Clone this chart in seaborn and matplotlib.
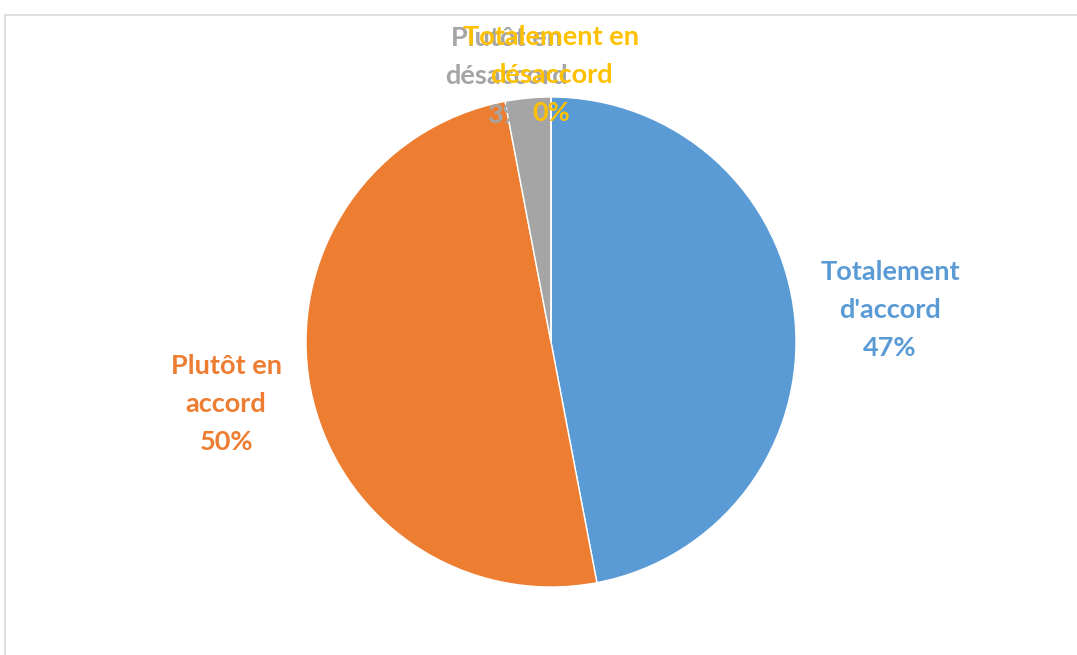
import numpy as np
import matplotlib
matplotlib.use("Agg")
import matplotlib.pyplot as plt
from matplotlib.patches import Rectangle
import seaborn as sns

# Survey answers and their shares (percent)
categories = ["Totalement\nd'accord", "Plutôt en\naccord", "Plutôt en\ndésaccord", "Totalement en\ndésaccord"]
shares = [47, 50, 3, 0]
colors = ["#5B9BD5", "#ED7D31", "#A5A5A5", "#FFC000"]

sns.set_theme(style="white")
plt.rcParams["font.family"] = ["Lato", "DejaVu Sans"]

W, H = 1077, 655
fig = plt.figure(figsize=(W / 100, H / 100), dpi=100)
ax = fig.add_axes([0, 0, 1, 1])

wedges, _ = ax.pie(
    shares,
    colors=colors,
    startangle=90,
    counterclock=False,
    radius=1.0,
    wedgeprops=dict(edgecolor="white", linewidth=1),
)

# Label placement: distance from centre and a small sideways nudge per slice
label_dist = [1.39, 1.35, 1.09, 1.09]
label_shift = [0.0, 0.0, -0.08, 0.0]
for w, cat, val, col, d, s in zip(wedges, categories, shares, colors, label_dist, label_shift):
    mid = np.deg2rad((w.theta1 + w.theta2) / 2)
    x = d * np.cos(mid) + s
    y = d * np.sin(mid)
    ax.text(x, y, f"{cat}\n{val}%", color=col, ha="center", va="center",
            fontsize=19.5, fontweight="bold", linespacing=1.72)

# Map data units so that the pie sits at its place on the canvas
cx, cy, r = 551, H - 342, 245
ax.set_aspect("auto")
ax.set_xlim(-cx / r, (W - cx) / r)
ax.set_ylim(-cy / r, (H - cy) / r)
ax.axis("off")

# Light chart-area frame
fig.patches.append(Rectangle((5 / W, -0.05), 1.2, 1 - 15 / H + 0.05,
                             transform=fig.transFigure, fill=False,
                             edgecolor="#D9D9D9", linewidth=1.2, zorder=0))

fig.savefig("out.png", dpi=100, facecolor="white")
